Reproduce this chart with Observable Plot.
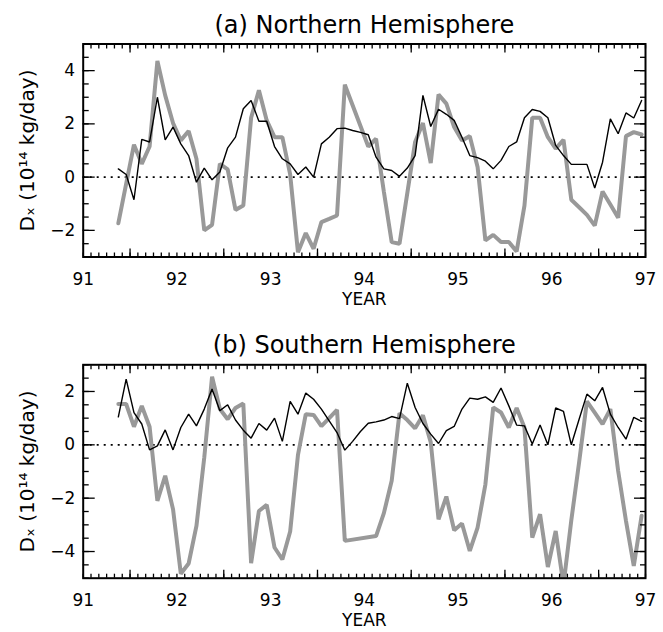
<!DOCTYPE html>
<html><head><meta charset="utf-8">
<script src="https://cdn.jsdelivr.net/npm/d3@7"></script>
<script src="https://cdn.jsdelivr.net/npm/@observablehq/plot@0.6"></script>
<style>body{margin:0;background:#fff} svg{display:block}</style>
</head><body><div id="chart"></div>
<script>
// Monthly samples (year-month)
const months = [
 "1991-05","1991-06","1991-07","1991-08","1991-09","1991-10","1991-11","1991-12",
 "1992-01","1992-02","1992-03","1992-04","1992-05","1992-06","1992-07","1992-08","1992-09","1992-10","1992-11","1992-12",
 "1993-01","1993-02","1993-03","1993-04","1993-05","1993-06","1993-07","1993-08","1993-09","1993-10","1993-11","1993-12",
 "1994-01","1994-02","1994-03","1994-04","1994-05","1994-06","1994-07","1994-08","1994-09","1994-10","1994-11","1994-12",
 "1995-01","1995-02","1995-03","1995-04","1995-05","1995-06","1995-07","1995-08","1995-09","1995-10","1995-11","1995-12",
 "1996-01","1996-02","1996-03","1996-04","1996-05","1996-06","1996-07","1996-08","1996-09","1996-10","1996-11","1996-12"
];
// (a) Northern Hemisphere
const nhThin = [0.31,0.10,-0.85,1.42,1.32,3.0,1.4,1.88,1.25,0.81,-0.19,0.34,-0.1,0.19,1.1,1.5,2.57,2.88,2.1,2.1,
 1.15,0.69,0.5,0.1,0.38,0.0,1.25,1.5,1.82,1.84,1.75,1.68,1.59,0.75,0.31,0.25,0.03,0.34,0.81,3.07,
 1.9,2.55,2.36,2.13,1.5,0.81,0.73,0.6,0.31,0.63,1.15,1.32,2.23,2.54,2.47,2.23,1.19,0.81,0.48,0.48,
 0.48,-0.41,0.56,2.19,1.63,2.41,2.22,2.88];
const nhThick = [-1.73,-0.25,1.22,0.5,1.15,4.36,3.07,2.03,1.38,1.73,0.69,-2.0,-1.79,0.5,0.29,-1.23,-1.07,2.23,3.26,2.13,
 1.5,1.5,0.1,-2.82,-2.1,-2.69,-1.69,-1.57,-1.44,3.47,null,null,1.15,1.44,-0.55,-2.44,-2.5,-0.6,1.32,2.03,
 0.53,3.1,2.76,1.88,1.38,1.54,0.38,-2.38,-2.17,-2.44,-2.44,-2.79,-1.07,2.23,2.23,1.5,1.07,1.4,-0.85,-1.13,
 -1.42,-1.82,-0.54,-1.03,-1.53,1.54,1.69,1.6];
// (b) Southern Hemisphere
const shThin = [1.05,2.46,1.21,0.78,-0.19,-0.04,0.56,-0.19,0.65,1.15,0.71,1.34,2.09,1.28,1.5,0.93,0.55,0.25,0.8,0.55,
 1.0,0.13,1.63,1.15,1.94,1.71,1.34,0.9,0.46,-0.2,0.13,0.5,0.81,0.86,0.93,1.06,0.98,2.31,1.4,0.8,
 0.4,0.05,0.53,0.69,1.34,1.75,1.71,1.8,1.59,2.13,1.46,0.74,0.71,0.03,0.74,0.0,1.38,1.25,0.0,0.96,
 1.9,1.65,2.15,1.15,0.65,0.21,1.03,0.88];
const shThick = [1.53,1.53,0.68,1.46,0.68,-2.1,-1.16,-2.41,-4.83,-4.45,-3.04,-0.48,2.55,1.34,0.96,1.38,1.55,-4.44,-2.48,-2.25,
 -3.85,-4.3,-3.25,-0.38,1.15,1.12,0.7,1.0,1.31,-3.6,null,null,null,-3.42,-2.56,-1.35,1.18,0.93,0.62,1.11,
 0.1,-2.79,-1.94,-3.2,-2.95,-3.98,-3.1,-1.48,1.4,1.21,0.65,1.38,0.65,-3.48,-2.6,-4.58,-3.23,-5.25,-2.83,-0.65,
 1.63,1.21,0.78,1.34,-0.98,-2.85,-4.54,-2.66];

const xTickLabels = [91,92,93,94,95,96,97];
const xMajorTicks = [91.5,92.5,93.5,94.5,95.5,96.5];
const nhYLabels = [-2,0,2,4];
const shYLabels = [-4,-2,0,2];
const yTitle = "D\u2093 (10\u00B9\u2074 kg/day)";

const toYear = s => { const [y, m] = s.split("-").map(Number); return (y - 1900) + (m - 0.5) / 12; };
const rows = vals => months.map((m, i) => ({x: toYear(m), v: vals[i]})).filter(d => d.v != null);
const xMinor = d3.range(0, 73).map(i => 91 + i / 12);

function panel({title, thin, thick, yDomain, yLabels, height, marginTop, marginBottom, yearDy}) {
  const yMinor = d3.range(yDomain[0], yDomain[1] + 0.001, 0.5);
  const tk = {tickFormat: () => "", label: null, strokeWidth: 1.3};
  return Plot.plot({
    width: 663, height, marginTop, marginBottom, marginLeft: 82.7, marginRight: 18,
    style: {fontFamily: "DejaVu Sans", background: "white", color: "black", overflow: "visible"},
    x: {domain: [91, 97]},
    y: {domain: yDomain},
    marks: [
      Plot.ruleY([0], {strokeDasharray: "2,5", strokeWidth: 1.6, stroke: "black"}),
      Plot.line(rows(thick), {x: "x", y: "v", stroke: "#999", strokeWidth: 4, strokeLinejoin: "miter", clip: true}),
      Plot.line(rows(thin), {x: "x", y: "v", stroke: "black", strokeWidth: 1.4, strokeLinejoin: "miter"}),
      Plot.axisX(xMinor, {anchor: "bottom", tickSize: -4, ...tk}),
      Plot.axisX(xMinor, {anchor: "top", tickSize: -4, ...tk}),
      Plot.axisX(xMajorTicks, {anchor: "bottom", tickSize: -8, ...tk}),
      Plot.axisX(xMajorTicks, {anchor: "top", tickSize: -8, ...tk}),
      Plot.axisX(xTickLabels, {anchor: "bottom", tickSize: 0, tickPadding: 16, fontSize: 17, label: null, tickFormat: d => String(d)}),
      Plot.axisY(yMinor, {anchor: "left", tickSize: -6, ...tk}),
      Plot.axisY(yMinor, {anchor: "right", tickSize: -6, ...tk}),
      Plot.axisY(yLabels, {anchor: "left", tickSize: -12, ...tk}),
      Plot.axisY(yLabels, {anchor: "right", tickSize: -12, ...tk}),
      Plot.axisY(yLabels, {anchor: "left", tickSize: 0, tickPadding: 8, fontSize: 17, label: null}),
      Plot.frame({stroke: "black", strokeWidth: 2}),
      Plot.text([title], {text: d => d, frameAnchor: "top", lineAnchor: "middle", textAnchor: "middle", dy: -19, fontSize: 24}),
      Plot.text(["YEAR"], {text: d => d, frameAnchor: "bottom", lineAnchor: "middle", textAnchor: "middle", dy: yearDy, fontSize: 17}),
      Plot.text([yTitle], {text: d => d, frameAnchor: "left", lineAnchor: "middle", textAnchor: "middle", dx: -56, rotate: -90, fontSize: 20})
    ]
  });
}

const chart = document.getElementById("chart");
chart.append(panel({title: "(a) Northern Hemisphere", thin: nhThin, thick: nhThick, yDomain: [-3, 5], yLabels: nhYLabels,
  height: 320, marginTop: 43.5, marginBottom: 63.5, yearDy: 43}));
chart.append(panel({title: "(b) Southern Hemisphere", thin: shThin, thick: shThick, yDomain: [-5, 3], yLabels: shYLabels,
  height: 312, marginTop: 44.3, marginBottom: 54.3, yearDy: 42}));
</script>
</body></html>
